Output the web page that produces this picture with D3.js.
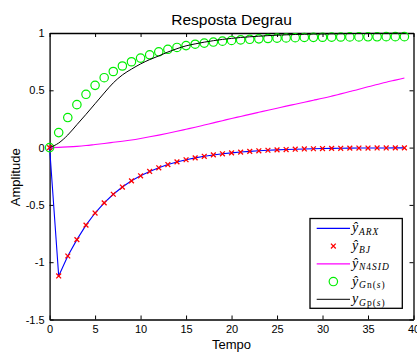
<!DOCTYPE html>
<html>
<head>
<meta charset="utf-8">
<script src="https://cdn.jsdelivr.net/npm/d3@7"></script>
<style>
  body { margin: 0; background: #fff; }
  svg { display: block; }
</style>
</head>
<body>
<svg id="chart" width="417" height="352"></svg>
<script>
// Sample instants (s)
const timeSteps = [0, 1, 2, 3, 4, 5, 6, 7, 8, 9, 10, 11, 12, 13, 14, 15, 16, 17, 18, 19,
                   20, 21, 22, 23, 24, 25, 26, 27, 28, 29, 30, 31, 32, 33, 34, 35, 36, 37, 38, 39];

// Step responses of the identified models
const arxValues = [0, -1.12, -0.946, -0.803, -0.677, -0.571, -0.482, -0.407, -0.344, -0.29,
                   -0.246, -0.208, -0.176, -0.148, -0.125, -0.106, -0.09, -0.076, -0.064, -0.054,
                   -0.046, -0.039, -0.033, -0.028, -0.023, -0.02, -0.017, -0.014, -0.012, -0.01,
                   -0.008, -0.007, -0.006, -0.005, -0.004, -0.004, -0.003, -0.003, -0.002, -0.002];
const bjValues  = [0, -1.12, -0.946, -0.803, -0.677, -0.571, -0.482, -0.407, -0.344, -0.29,
                   -0.246, -0.208, -0.176, -0.148, -0.125, -0.106, -0.09, -0.076, -0.064, -0.054,
                   -0.046, -0.039, -0.033, -0.028, -0.023, -0.02, -0.017, -0.014, -0.012, -0.01,
                   -0.008, -0.007, -0.006, -0.005, -0.004, -0.004, -0.003, -0.003, -0.002, -0.002];
const n4sidValues = [0, 0.002, 0.006, 0.011, 0.018, 0.027, 0.036, 0.046, 0.056, 0.067,
                     0.08, 0.094, 0.109, 0.125, 0.142, 0.16, 0.178, 0.197, 0.216, 0.235,
                     0.254, 0.272, 0.29, 0.308, 0.326, 0.344, 0.362, 0.379, 0.396, 0.413,
                     0.43, 0.449, 0.469, 0.489, 0.509, 0.531, 0.551, 0.571, 0.589, 0.607];
const gnValues = [0, 0.131, 0.262, 0.375, 0.465, 0.543, 0.61, 0.664, 0.712, 0.749,
                  0.781, 0.81, 0.836, 0.858, 0.874, 0.89, 0.902, 0.912, 0.921, 0.929,
                  0.935, 0.94, 0.945, 0.949, 0.952, 0.955, 0.957, 0.959, 0.961, 0.962,
                  0.963, 0.964, 0.965, 0.966, 0.966, 0.967, 0.967, 0.968, 0.968, 0.968];
const gpValues = [0, 0.04, 0.11, 0.2, 0.29, 0.383, 0.476, 0.565, 0.634, 0.685,
                  0.73, 0.768, 0.8, 0.834, 0.863, 0.888, 0.905, 0.92, 0.933, 0.944,
                  0.953, 0.961, 0.967, 0.972, 0.977, 0.981, 0.984, 0.987, 0.989, 0.991,
                  0.992, 0.993, 0.994, 0.995, 0.996, 0.996, 0.997, 0.997, 0.998, 0.998];

const xTicks = [0, 5, 10, 15, 20, 25, 30, 35, 40];
const yTicks = [-1.5, -1, -0.5, 0, 0.5, 1];

const titleText = "Resposta Degrau";
const xLabel = "Tempo";
const yLabel = "Amplitude";

const svg = d3.select("#chart");
const plotLeft = 49.6, plotRight = 413.5, plotTop = 33, plotBottom = 319.5;

const x = d3.scaleLinear().domain([0, 40]).range([plotLeft, plotRight]);
const y = d3.scaleLinear().domain([-1.5, 1]).range([plotBottom, plotTop]);

const sansFont = "Liberation Sans, Arial, sans-serif";
const fmt = v => String(v);

// Axes box with inward ticks on every side
function styleAxis(g) {
  g.select(".domain").attr("stroke", "#000").attr("stroke-width", 1.3);
  g.selectAll(".tick line").attr("stroke", "#000").attr("stroke-width", 1);
  g.selectAll(".tick text").attr("fill", "#000")
    .attr("font-family", sansFont).attr("font-size", 11);
}

svg.append("g").attr("transform", `translate(0,${plotBottom})`)
  .call(d3.axisBottom(x).tickValues(xTicks).tickFormat(fmt)
        .tickSizeInner(-4).tickSizeOuter(0).tickPadding(6))
  .call(styleAxis)
  .call(g => g.selectAll(".tick text").attr("y", 6).attr("dy", "0.71em"));

svg.append("g").attr("transform", `translate(0,${plotTop})`)
  .call(d3.axisTop(x).tickValues(xTicks).tickFormat("")
        .tickSizeInner(-4).tickSizeOuter(0))
  .call(styleAxis);

svg.append("g").attr("transform", `translate(${plotLeft},0)`)
  .call(d3.axisLeft(y).tickValues(yTicks).tickFormat(fmt)
        .tickSizeInner(-4).tickSizeOuter(0).tickPadding(5))
  .call(styleAxis);

svg.append("g").attr("transform", `translate(${plotRight},0)`)
  .call(d3.axisRight(y).tickValues(yTicks).tickFormat("")
        .tickSizeInner(-4).tickSizeOuter(0))
  .call(styleAxis);

// Curves
const pts = vals => timeSteps.map((t, i) => [t, vals[i]]);
const polyline = d3.line().x(d => x(d[0])).y(d => y(d[1]));
const smooth = d3.line().x(d => x(d[0])).y(d => y(d[1])).curve(d3.curveMonotoneX);

const plot = svg.append("g");

plot.append("path").datum(pts(arxValues))
  .attr("d", polyline).attr("fill", "none")
  .attr("stroke", "#0000ff").attr("stroke-width", 1.1);

const crossSize = 2.4;
plot.append("g").selectAll("path").data(pts(bjValues)).join("path")
  .attr("d", d => {
    const cx = x(d[0]), cy = y(d[1]), s = crossSize;
    return `M${cx - s},${cy - s}L${cx + s},${cy + s}M${cx - s},${cy + s}L${cx + s},${cy - s}`;
  })
  .attr("stroke", "#ff0000").attr("stroke-width", 1.3).attr("fill", "none");

plot.append("path").datum(pts(n4sidValues))
  .attr("d", smooth).attr("fill", "none")
  .attr("stroke", "#ff00ff").attr("stroke-width", 1.1);

plot.append("g").selectAll("circle").data(pts(gnValues)).join("circle")
  .attr("cx", d => x(d[0])).attr("cy", d => y(d[1])).attr("r", 4.2)
  .attr("fill", "none").attr("stroke", "#00ee00").attr("stroke-width", 1.2);

plot.append("path").datum(pts(gpValues))
  .attr("d", smooth).attr("fill", "none")
  .attr("stroke", "#000").attr("stroke-width", 1);

// Title and axis labels
svg.append("text").attr("x", (plotLeft + plotRight) / 2).attr("y", 24.5)
  .attr("text-anchor", "middle").attr("font-family", sansFont)
  .attr("font-size", 15.5).attr("fill", "#000").text(titleText);

svg.append("text").attr("x", (plotLeft + plotRight) / 2).attr("y", 349.3)
  .attr("text-anchor", "middle").attr("font-family", sansFont)
  .attr("font-size", 13).attr("fill", "#000").text(xLabel);

svg.append("text").attr("transform", `translate(19.5,${(plotTop + plotBottom) / 2 + 1}) rotate(-90)`)
  .attr("text-anchor", "middle").attr("font-family", sansFont)
  .attr("font-size", 13).attr("fill", "#000").text(yLabel);

// Legend
const legendBox = { x0: 310, y0: 218.5, x1: 402.3, y1: 308.3 };
const legend = svg.append("g");
legend.append("rect")
  .attr("x", legendBox.x0).attr("y", legendBox.y0)
  .attr("width", legendBox.x1 - legendBox.x0).attr("height", legendBox.y1 - legendBox.y0)
  .attr("fill", "#fff").attr("stroke", "#000").attr("stroke-width", 1.3);

// Each label: main symbol + subscript pieces [text, italic?]
const legendItems = [
  { kind: "line", color: "#0000ff", main: "ŷ", sub: [["ARX", true]] },
  { kind: "cross", color: "#ff0000", main: "ŷ", sub: [["BJ", true]] },
  { kind: "line", color: "#ff00ff", main: "ŷ", sub: [["N", true], ["4", false], ["SID", true]] },
  { kind: "circle", color: "#00ee00", main: "ŷ", sub: [["G", true], ["n(", false], ["s", true], [")", false]] },
  { kind: "line", color: "#000000", main: "y", sub: [["G", true], ["p(", false], ["s", true], [")", false]] }
];

const rowY0 = 228.3, rowStep = 17.75;
const lx0 = 316.7, lx1 = 350, textX = 352;
const mathFont = "Liberation Serif, Times New Roman, serif";

legendItems.forEach((item, i) => {
  const cy = rowY0 + i * rowStep;
  const mid = (lx0 + lx1) / 2;
  if (item.kind === "line") {
    legend.append("line").attr("x1", lx0).attr("x2", lx1).attr("y1", cy).attr("y2", cy)
      .attr("stroke", item.color).attr("stroke-width", item.color === "#000000" ? 1 : 1.2);
  } else if (item.kind === "cross") {
    const s = crossSize;
    legend.append("path")
      .attr("d", `M${mid - s},${cy - s}L${mid + s},${cy + s}M${mid - s},${cy + s}L${mid + s},${cy - s}`)
      .attr("stroke", item.color).attr("stroke-width", 1.3);
  } else {
    legend.append("circle").attr("cx", mid).attr("cy", cy).attr("r", 4.2)
      .attr("fill", "none").attr("stroke", item.color).attr("stroke-width", 1.2);
  }
  const t = legend.append("text").attr("x", textX).attr("y", cy + 4)
    .attr("font-family", mathFont).attr("fill", "#000");
  t.append("tspan").attr("font-size", 14).attr("font-style", "italic").text(item.main);
  item.sub.forEach((p, j) => {
    const sp = t.append("tspan").attr("font-size", 9.5)
      .attr("letter-spacing", 1)
      .attr("font-style", p[1] ? "italic" : "normal").text(p[0]);
    if (j === 0) sp.attr("dy", 2.6).attr("dx", 0.8);
  });
});
</script>
</body>
</html>
